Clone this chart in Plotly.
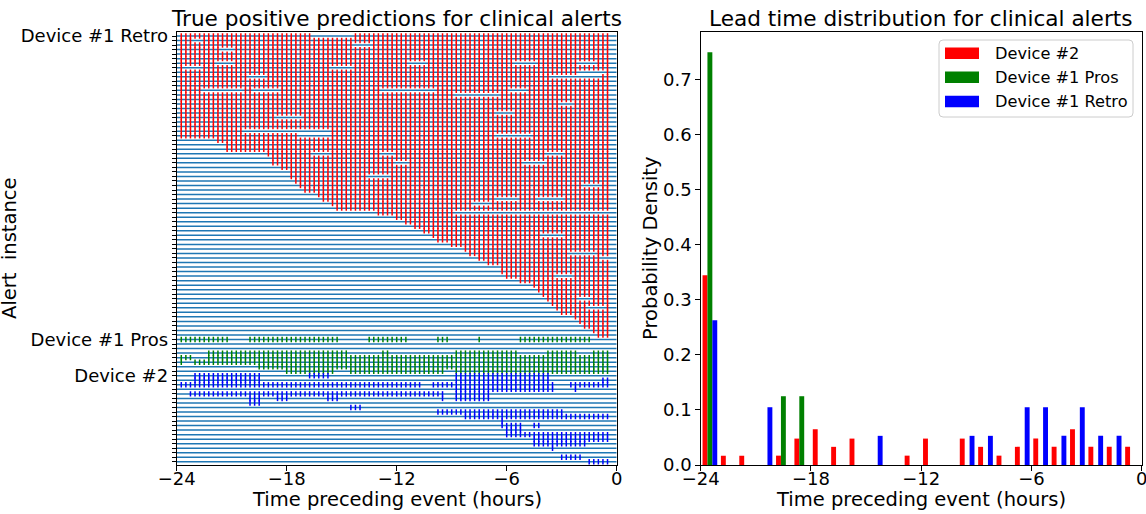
import plotly.graph_objects as go

W, H = 1146, 514

# ---------------- Left panel data (alert rasters) ----------------
# prediction grid: every 15 minutes from -23.75 h to -0.5 h
PRED_TIMES = [-23.75 + 0.25 * j for j in range(94)]
N_ROWS = 95

# Device #1 Retro (red): first true-positive prediction time per alert row (rows 0..66)
retro_start = [-23.75] * 23 + [
    -21.75, -21.25, -21.25, -19.0, -18.75, -18.75, -18.25, -17.75, -17.75, -17.5,
    -17.25, -17.0, -16.25, -16.0, -15.5, -15.25, -13.0, -12.0, -11.5, -11.0,
    -10.5, -10.0, -9.75, -9.0, -8.25, -8.0, -7.5, -7.0, -6.25, -6.25,
    -6.0, -5.25, -4.5, -4.25, -4.0, -3.75, -3.5, -3.25, -3.0, -2.25,
    -2.0, -1.75, -1.25, -1.0,
]
retro_end = -0.5
# missed predictions (row, from, to)
retro_gaps = [
    (0, -16.5, -14.5), (1, -23.0, -22.75), (2, -14.25, -13.5), (3, -21.5, -21.0),
    (6, -21.75, -21.0), (6, -11.25, -10.5), (6, -5.5, -4.5), (6, -2.0, -1.25),
    (7, -15.5, -14.5), (7, -23.5, -22.75), (8, -2.0, -0.75), (9, -20.0, -19.25),
    (9, -3.5, -1.0), (12, -22.5, -20.5), (12, -19.75, -18.5), (12, -12.75, -10.0),
    (12, -5.75, -5.0), (13, -8.75, -6.5), (15, -3.0, -2.5), (17, -6.5, -5.75),
    (18, -18.5, -17.25), (21, -20.25, -15.75), (22, -17.25, -15.75), (22, -6.5, -4.75),
    (26, -16.5, -15.75), (26, -12.75, -12.25), (26, -3.75, -3.0), (28, -12.0, -11.5),
    (28, -5.0, -4.0), (31, -13.5, -12.5), (33, -1.75, -1.0), (36, -6.5, -5.5),
    (36, -4.25, -3.0), (37, -7.75, -7.0), (39, -8.75, -0.5), (44, -4.0, -3.0),
    (48, -2.5, -1.25), (49, -0.75, -0.5), (53, -3.25, -2.5), (58, -2.0, -1.5),
    (60, -1.5, -0.75),
]

# Device #1 Pros (green): row -> runs of predictions
pros_runs = {
    67: [(-23.75, -21.25), (-20.0, -15.25), (-13.5, -11.5), (-9.75, -9.25), (-7.5, -7.5), (-5.25, -1.5)],
    70: [(-22.25, -16.0), (-15.75, -15.5), (-15.25, -14.75), (-12.75, -12.5), (-8.75, -5.5), (-3.75, -2.25), (-1.25, -0.5)],
    71: [(-23.75, -23.25), (-22.25, -0.5)],
    72: [(-23.75, -23.75), (-23.0, -0.5)],
    73: [(-19.5, -0.5)],
    74: [(-18.0, -15.5), (-14.5, -9.5), (-8.75, -0.5)],
}

# Device #2 (blue): row -> runs of predictions
dev2_runs = {
    75: [(-23.0, -19.5), (-16.75, -15.75), (-8.75, -3.75)],
    76: [(-23.0, -19.5), (-8.75, -3.75), (-0.75, -0.5)],
    77: [(-23.75, -23.25), (-23.0, -10.75), (-10.0, -3.75), (-3.5, -3.5), (-2.5, -0.5)],
    78: [(-8.75, -3.75), (-3.5, -3.5), (-2.25, -2.25)],
    79: [(-23.25, -9.5), (-8.75, -7.0)],
    80: [(-20.0, -19.5), (-18.5, -18.0), (-15.75, -15.25), (-9.5, -9.5), (-8.75, -7.0)],
    81: [(-20.0, -19.5)],
    82: [(-14.5, -14.0)],
    83: [(-9.75, -8.5), (-8.25, -3.0)],
    84: [(-8.25, -3.0), (-2.75, -0.5)],
    85: [(-6.25, -6.25)],
    86: [(-6.25, -5.25), (-4.5, -4.25)],
    87: [(-6.0, -5.25)],
    88: [(-6.0, -5.25), (-5.0, -4.75), (-4.5, -0.5)],
    89: [(-4.5, -0.5)],
    90: [(-4.5, -1.75)],
    91: [(-3.5, -3.5)],
    93: [(-3.0, -2.0)],
    94: [(-1.5, -0.5)],
}

row_labels = {0: "Device #1 Retro", 67: "Device #1 Pros", 75: "Device #2"}

# ---------------- Right panel data (lead-time histogram, 1 h bins) ----------------
bin_left = list(range(-24, 0))
dens_dev2 = [0.345, 0.017, 0.017, 0, 0.017, 0.048, 0.065, 0.033, 0.048, 0, 0, 0.017,
             0.048, 0, 0.048, 0.033, 0.017, 0.033, 0.048, 0.033, 0.065, 0.033, 0.033, 0.033]
dens_pros = [0.75, 0, 0, 0, 0.125, 0.125, 0, 0, 0, 0, 0, 0,
             0, 0, 0, 0, 0, 0, 0, 0, 0, 0, 0, 0]
dens_retro = [0.263, 0, 0, 0.105, 0, 0, 0, 0, 0, 0.053, 0, 0,
              0, 0, 0.053, 0.053, 0, 0.105, 0.105, 0.053, 0.105, 0.053, 0.053, 0]

RED, GREEN, BLUE, TAB = "#ff0000", "#008000", "#0000ff", "#1f77b4"
FONT = "DejaVu Sans"
HALF = 0.6


def in_runs(t, runs):
    return any(a - 1e-9 <= t <= b + 1e-9 for a, b in runs)


def segs(row_runs):
    xs, ys = [], []
    for r, runs in row_runs.items():
        for t in PRED_TIMES:
            if in_runs(t, runs):
                xs += [t, t, None]
                ys += [r - HALF, r + HALF, None]
    return xs, ys


retro_x, retro_y = [], []
for r, s in enumerate(retro_start):
    gaps = [(a, b) for (gr, a, b) in retro_gaps if gr == r]
    for t in PRED_TIMES:
        if s - 1e-9 <= t <= retro_end + 1e-9 and not in_runs(t, gaps):
            retro_x += [t, t, None]
            retro_y += [r - HALF, r + HALF, None]

pros_x, pros_y = segs(pros_runs)
dev2_x, dev2_y = segs(dev2_runs)

fig = go.Figure()

hx, hy = [], []
for r in range(N_ROWS):
    hx += [-24, 0, None]
    hy += [r, r, None]
fig.add_trace(go.Scatter(x=hx, y=hy, mode="lines", line=dict(color=TAB, width=1.5),
                         xaxis="x", yaxis="y", hoverinfo="skip", showlegend=False))

for xs, ys, c in [(retro_x, retro_y, RED), (pros_x, pros_y, GREEN), (dev2_x, dev2_y, BLUE)]:
    fig.add_trace(go.Scatter(x=xs, y=ys, mode="lines", line=dict(color=c, width=1.5),
                             xaxis="x", yaxis="y", hoverinfo="skip", showlegend=False))

centers = [b + 0.5 for b in bin_left]
for vals, c, name in [(dens_dev2, RED, "Device #2"), (dens_pros, GREEN, "Device #1 Pros"),
                      (dens_retro, BLUE, "Device #1 Retro")]:
    fig.add_trace(go.Bar(x=centers, y=vals, name=name, marker=dict(color=c, line=dict(width=0)),
                         xaxis="x2", yaxis="y2", showlegend=False))


def px(x):
    return x / W


def py(y):
    return 1 - y / H


YDOM = [py(465), py(31.7)]
axis_common = dict(showline=True, mirror=True, linecolor="black", linewidth=1,
                   ticks="outside", tickcolor="black", tickwidth=1, showgrid=False,
                   zeroline=False, automargin=False, ticklabeloverflow="allow",
                   tickfont=dict(family=FONT, size=18, color="black"))

ytv = list(range(N_ROWS))
ytt = [row_labels.get(r, "") for r in ytv]

fig.update_layout(
    width=W, height=H, margin=dict(l=0, r=0, t=0, b=0, pad=0, autoexpand=False),
    paper_bgcolor="white", plot_bgcolor="white",
    barmode="group", bargap=0.2, bargroupgap=0,
    xaxis=dict(domain=[px(176.7), px(616.7)], range=[-24, 0], anchor="y",
               tickvals=[-24, -18, -12, -6, 0], ticklen=4.5, ticklabelstandoff=-7, **axis_common),
    yaxis=dict(domain=YDOM, range=[94.7, -0.95], anchor="x", tickvals=ytv, ticktext=ytt,
               ticklen=4, **axis_common),
    xaxis2=dict(domain=[px(700.7), px(1141.7)], range=[-24, 0], anchor="y2",
                tickvals=[-24, -18, -12, -6, 0], ticklen=4.5, ticklabelstandoff=-7, **axis_common),
    yaxis2=dict(domain=YDOM, range=[0, 0.7875], anchor="x2",
                tickvals=[0, 0.1, 0.2, 0.3, 0.4, 0.5, 0.6, 0.7], tickformat=".1f",
                ticklen=4.5, **axis_common),
    showlegend=False,
)

ann = []


def text(x, y, s, size, **kw):
    d = dict(x=px(x), y=py(y), xref="paper", yref="paper", text=s, showarrow=False,
             font=dict(family=FONT, size=size, color="black"))
    d.update(kw)
    ann.append(d)


text(396.7, 19, "True positive predictions for clinical alerts", 21.6, xanchor="center", yanchor="middle")
text(921.2, 19, "Lead time distribution for clinical alerts", 21.6, xanchor="center", yanchor="middle")
text(396.7, 499, "Time preceding event (hours)", 19.5, xanchor="center", yanchor="middle")
text(921.2, 499, "Time preceding event (hours)", 19.5, xanchor="center", yanchor="middle")
text(9.5, 248.4, "Alert\u00a0\u00a0instance", 19.5, xanchor="center", yanchor="middle", textangle=-90)
text(650.5, 248.4, "Probability Density", 19.5, xanchor="center", yanchor="middle", textangle=-90)

# legend (manual, matplotlib style)
shapes = []
lx0, lx1, ly0, ly1, rr = 939, 1133, 40, 117, 4
path = (f"M {px(lx0 + rr)},{py(ly0)} L {px(lx1 - rr)},{py(ly0)} Q {px(lx1)},{py(ly0)} {px(lx1)},{py(ly0 + rr)} "
        f"L {px(lx1)},{py(ly1 - rr)} Q {px(lx1)},{py(ly1)} {px(lx1 - rr)},{py(ly1)} "
        f"L {px(lx0 + rr)},{py(ly1)} Q {px(lx0)},{py(ly1)} {px(lx0)},{py(ly1 - rr)} "
        f"L {px(lx0)},{py(ly0 + rr)} Q {px(lx0)},{py(ly0)} {px(lx0 + rr)},{py(ly0)} Z")
shapes.append(dict(type="path", path=path, xref="paper", yref="paper",
                   fillcolor="rgba(255,255,255,0.8)", line=dict(color="#cccccc", width=1)))
for yc, c, name in [(53.2, RED, "Device #2"), (77.3, GREEN, "Device #1 Pros"), (101.5, BLUE, "Device #1 Retro")]:
    shapes.append(dict(type="rect", xref="paper", yref="paper", x0=px(945), x1=px(979),
                       y0=py(yc - 5.8), y1=py(yc + 5.8), fillcolor=c, line=dict(width=0)))
    text(992.7, yc, name, 16.2, xanchor="left", yanchor="middle")

fig.update_layout(annotations=ann, shapes=shapes)
fig.write_html("out.html")
